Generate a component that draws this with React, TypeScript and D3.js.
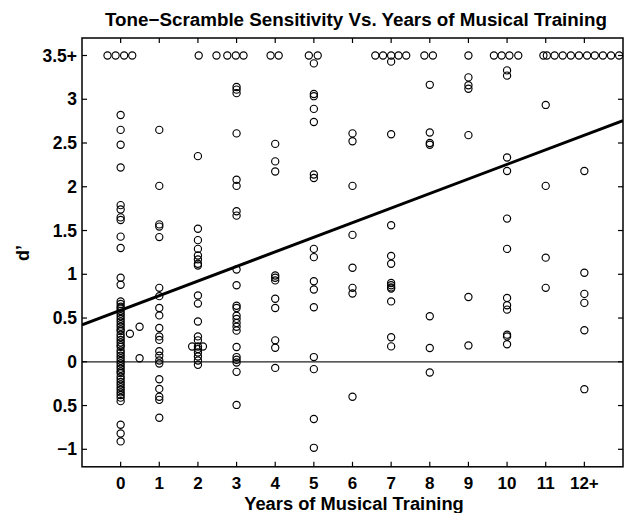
import React from 'react';
import * as d3 from 'd3';

const W = 624;
const H = 513;

const xTickValues = [0, 1, 2, 3, 4, 5, 6, 7, 8, 9, 10, 11, 12];
const xTickLabels = ['0', '1', '2', '3', '4', '5', '6', '7', '8', '9', '10', '11', '12+'];
const yTickValues = [-1, -0.5, 0, 0.5, 1, 1.5, 2, 2.5, 3, 3.5];
const yTickLabels = ['\u22121', '0.5', '0', '0.5', '1', '1.5', '2', '2.5', '3', '3.5+'];

// d' values per years of training
const year0 = [2.82, 2.65, 2.48, 2.22, 1.79, 1.74, 1.65, 1.62, 1.43, 1.30, 0.96, 0.88,
  0.69, 0.66, 0.63, 0.61, 0.58, 0.55, 0.52, 0.49, 0.46, 0.43, 0.40, 0.37, 0.35, 0.31, 0.28,
  0.25, 0.22, 0.19, 0.17, 0.13, 0.10, 0.07, 0.04, 0.01, -0.02, -0.05, -0.08, -0.11, -0.13,
  -0.17, -0.20, -0.23, -0.26, -0.29, -0.32, -0.35, -0.38, -0.41, -0.45, -0.72, -0.82, -0.91];
const year1 = [2.65, 2.01, 1.57, 1.545, 1.425, 0.845, 0.75, 0.615, 0.53, 0.386, 0.29, 0.25,
  0.12, 0.07, 0.015, -0.02, -0.2, -0.31, -0.40, -0.435, -0.64];
const year2 = [2.35, 1.52, 1.39, 1.29, 1.215, 1.17, 1.12, 1.10, 0.757, 0.665, 0.46, 0.29,
  0.245, 0.175, 0.145, 0.107, 0.06, 0.015, -0.035];
const year3 = [3.14, 3.11, 3.07, 2.61, 2.08, 2.01, 1.72, 1.67, 1.055, 0.875, 0.64, 0.615,
  0.527, 0.49, 0.444, 0.40, 0.356, 0.169, 0.054, 0.023, -0.008, -0.115, -0.493];
const year4 = [2.49, 2.29, 2.175, 0.986, 0.96, 0.93, 0.72, 0.615, 0.245, 0.16, -0.07];
const year5 = [3.41, 3.06, 3.035, 2.89, 2.74, 2.14, 2.10, 1.29, 1.196, 0.92, 0.826, 0.623,
  0.054, -0.084, -0.654, -0.983];
const year6 = [2.61, 2.52, 2.01, 1.45, 1.075, 0.845, 0.78, -0.40];
const year7 = [3.43, 2.60, 1.56, 1.21, 1.12, 0.90, 0.875, 0.85, 0.837, 0.69, 0.28, 0.176];
const year8 = [3.165, 2.62, 2.50, 2.48, 0.52, 0.157, -0.122];
const year9 = [3.25, 3.16, 3.12, 2.59, 0.74, 0.187];
const year10 = [3.33, 3.27, 2.335, 2.18, 1.636, 1.29, 0.73, 0.646, 0.596, 0.31, 0.29, 0.20];
const year11 = [2.935, 2.01, 1.19, 0.845];
const year12 = [2.18, 1.017, 0.776, 0.673, 0.36, -0.313];

const columns = [year0, year1, year2, year3, year4, year5, year6, year7, year8, year9, year10, year11, year12];

// points drawn slightly off their column
const offsetYears = [0.24, 0.49, 0.49, 1.85, 2.13];
const offsetValues = [0.32, 0.40, 0.04, 0.175, 0.175];

// ceiling (3.5+) row, spread horizontally
const ceilingValue = 3.5;
const ceilingYears = [-0.34, -0.13, 0.09, 0.30, 2.02, 2.48, 2.76, 2.98, 3.18, 3.88, 4.09,
  4.87, 5.10, 6.59, 6.79, 7.0, 7.19, 7.39, 7.86, 8.08, 9.0, 9.66, 9.86, 10.06, 10.29,
  10.94, 11.03, 11.23, 11.44, 11.65, 11.86, 12.07, 12.27, 12.48, 12.69, 12.9];

// least-squares fit
const fitIntercept = 0.59;
const fitSlope = 0.1666;

const FONT = '"Liberation Sans", Arial, Helvetica, sans-serif';

export default function App() {
  const left = 82, right = 623, top = 38, bottom = 466.8;
  const x = d3.scaleLinear().domain([-1, 13]).range([left, right]);
  const y = d3.scaleLinear().domain([-1.2, 3.7]).range([bottom, top]);

  const points: { px: number; py: number }[] = [];
  columns.forEach((vals, i) => vals.forEach(v => points.push({ px: x(xTickValues[i]), py: y(v) })));
  offsetYears.forEach((yr, i) => points.push({ px: x(yr), py: y(offsetValues[i]) }));
  ceilingYears.forEach(yr => points.push({ px: x(yr), py: y(ceilingValue) }));

  const fitLine = d3.line<number>().x(d => x(d)).y(d => y(fitIntercept + fitSlope * d));
  const tick = 5;

  return (
    <svg width={W} height={H} style={{ position: 'absolute', left: 0, top: 0, background: '#fff' }}
      fontFamily={FONT}>
      <rect x={0} y={0} width={W} height={H} fill="#fff" />
      <defs>
        <clipPath id="plotclip">
          <rect x={left} y={top} width={right - left} height={bottom - top} />
        </clipPath>
      </defs>
      <text x={356} y={26} textAnchor="middle" fontSize={18.8} fontWeight="bold">
        Tone{'\u2212'}Scramble Sensitivity Vs. Years of Musical Training
      </text>
      <g clipPath="url(#plotclip)">
        <line x1={left} x2={right} y1={y(0)} y2={y(0)} stroke="#222" strokeWidth={1.3} />
        {points.map((p, i) => (
          <circle key={i} cx={p.px} cy={p.py} r={3.6} fill="none" stroke="#000" strokeWidth={1.15} />
        ))}
        <path d={fitLine([-1, 13]) || ''} stroke="#000" strokeWidth={3} fill="none" />
      </g>
      {/* frame */}
      <rect x={left} y={top} width={right - left} height={bottom - top} fill="none" stroke="#000" strokeWidth={1.5} />
      {xTickValues.map(v => (
        <g key={'xt' + v}>
          <line x1={x(v)} x2={x(v)} y1={bottom} y2={bottom - tick} stroke="#000" strokeWidth={1.2} />
          <line x1={x(v)} x2={x(v)} y1={top} y2={top + tick} stroke="#000" strokeWidth={1.2} />
        </g>
      ))}
      {yTickValues.map(v => (
        <g key={'yt' + v}>
          <line x1={left} x2={left + tick} y1={y(v)} y2={y(v)} stroke="#000" strokeWidth={1.2} />
          <line x1={right} x2={right - tick} y1={y(v)} y2={y(v)} stroke="#000" strokeWidth={1.2} />
        </g>
      ))}
      {xTickLabels.map((lab, i) => (
        <text key={'xl' + i} x={x(xTickValues[i])} y={488.5} textAnchor="middle" fontSize={17} fontWeight="bold">
          {lab}
        </text>
      ))}
      {yTickLabels.map((lab, i) => (
        <text key={'yl' + i} x={77} y={y(yTickValues[i])} dy="0.35em" textAnchor="end" fontSize={17.5} fontWeight="bold">
          {lab}
        </text>
      ))}
      <text x={354} y={510} textAnchor="middle" fontSize={18.3} fontWeight="bold">
        Years of Musical Training
      </text>
      <text transform={`translate(29,253) rotate(-90)`} textAnchor="middle" fontSize={18} fontWeight="bold">
        d{'\u2019'}
      </text>
    </svg>
  );
}
